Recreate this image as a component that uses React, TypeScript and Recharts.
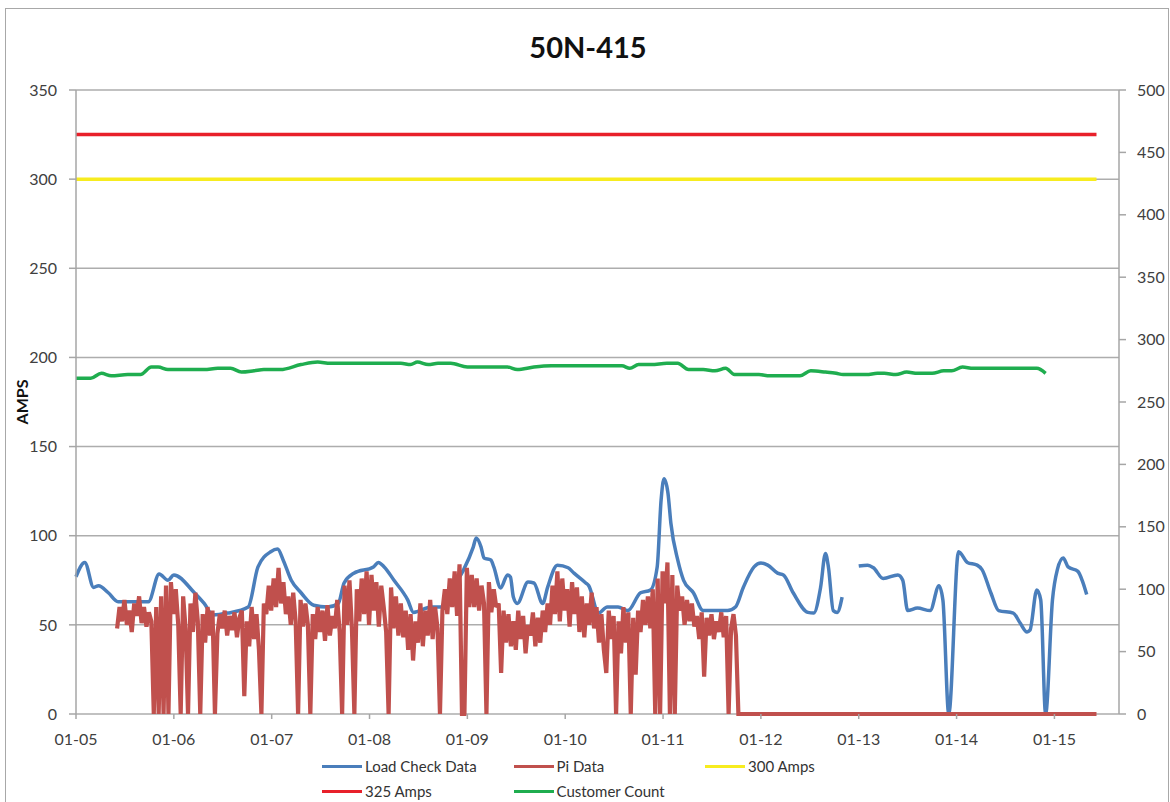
import { CartesianGrid, Line, LineChart, XAxis, YAxis } from 'recharts';

const dateLabels = ['01-05', '01-06', '01-07', '01-08', '01-09', '01-10', '01-11', '01-12', '01-13', '01-14', '01-15'];
const dayTicks = dateLabels.map((_, i) => i);
const ampTicks = [0, 50, 100, 150, 200, 250, 300, 350];
const countTicks = [0, 50, 100, 150, 200, 250, 300, 350, 400, 450, 500];

// Load Check Data (days after 01-05, amps); null = gap in the record
const loadCheckDays = [
  0, 0.09, 0.18, 0.23, 0.33, 0.43, 0.74, 0.85, 0.94, 1.0,
  1.21, 1.31, 1.4, 1.55, 1.76, 1.86, 1.99, 2.06, 2.12, 2.2,
  2.3, 2.43, 2.57, 2.68, 2.74, 2.84, 3.04, 3.09, 3.15, 3.25,
  3.39, 3.45, 3.63, 3.73, 3.83, 3.96, 4.06, 4.09, 4.14, 4.17,
  4.24, 4.27, 4.34, 4.41, 4.44, 4.47, 4.51, 4.62, 4.68, 4.77,
  4.82, 4.92, 5.03, 5.09, 5.21, 5.24, 5.34, 5.43, 5.54, 5.64,
  5.77, 5.87, 5.94, 5.98, 6.01, 6.05, 6.08, 6.15, 6.21, 6.31,
  6.41, 6.66, 6.74, 6.82, 6.93, 7.0, 7.07, 7.17, 7.23, 7.33,
  7.48, 7.54, 7.61, 7.66, 7.69, 7.74, 7.78, 7.83, 7.9, 8.0,
  8.09, 8.15, 8.25, 8.4, 8.45, 8.5, 8.6, 8.73, 8.82, 8.86,
  8.92, 9.02, 9.11, 9.21, 9.26, 9.35, 9.43, 9.58, 9.65, 9.72,
  9.75, 9.82, 9.86, 9.91, 9.98, 10.03, 10.09, 10.14, 10.24, 10.29,
  10.33,
];
const loadCheckAmps = [
  77, 85, 71, 72, 68, 63, 63, 78.5, 75, 78,
  68, 62, 55.5, 56.6, 60, 82.5, 91, 92.5, 86, 75,
  68, 61, 60, 62, 73.5, 79, 82.5, 85, 82.5, 75,
  64, 57, 60, 60, 69.5, 80.7, 93.6, 98.7, 93.6, 87.5,
  86.4, 82.5, 70.7, 78, 76.8, 65.6, 62, 74, 73.5, 62,
  71, 83.5, 82, 79, 73.5, 72, 56.6, 60, 60, 58,
  68, 69.5, 82.5, 120, 132, 124, 107, 86.4, 75, 68,
  58, 58, 60, 71, 82.5, 84.7, 83.5, 79, 78, 68,
  57, 56.6, 71, 90, 82.5, 58, 57, 65.6, null, 83,
  83.5, 82, 76, 78, 75, 58, 59.4, 58, 72, 64,
  0, 91, 85, 83.5, 81, 68, 58, 56.6, 51, 46,
  47, 69.5, 64, 0, 64, 81, 87.5, 82.5, 80, 74,
  67,
];

// Pi Data: regular readings from piStartDay every piStepDay
const piStartDay = 0.42;
const piStepDay = 0.025;
const piAmps = [
  48, 60, 52, 64, 50, 58, 46, 62, 55, 66, 51, 60, 49, 57,
  52, 0, 60, 0,
  66, 0, 72, 0, 74, 56, 70,
  50, 0, 66, 48, 0, 62, 46, 68, 52,
  0,
  56, 40, 60, 44, 58,
  0,
  45, 56, 48, 58, 44, 55, 47, 57, 43, 54,
  58, 10, 52, 38, 60, 42, 56, 36,
  0,
  62, 56, 72, 58, 76, 60, 82, 62, 74, 56,
  66, 50, 68, 52, 0, 64, 49, 62, 50,
  0,
  56, 42, 60, 46, 58, 41, 61, 44, 55, 48,
  64, 46, 0, 72, 50, 75, 48, 0, 70,
  52, 76, 56, 80, 50, 78, 58, 74, 49, 72,
  60, 46, 0, 71, 48, 66, 44, 62, 43, 58,
  36, 56, 30, 52, 40, 62, 38, 58,
  44, 64, 42, 60, 48,
  0,
  58, 70, 56, 76, 60, 80, 55, 84, 0, 0, 82, 60, 78,
  60, 76, 58, 72, 62, 0, 74, 57, 70, 60,
  62, 23, 58, 40, 56, 38,
  52, 36, 58, 42, 55, 34, 50, 44, 57, 38, 54, 40, 58, 46,
  62, 50, 72, 56, 80, 52, 76, 58, 70, 49, 74,
  56, 71, 46, 66, 43, 62, 50, 68,
  48, 60, 40, 56, 36, 23, 58, 42, 55, 0, 52, 34, 60, 40, 57, 0, 54, 22, 58,
  46, 64, 50, 66, 48,
  70, 0, 76, 0, 80, 62, 85, 0, 78, 0, 72,
  58, 66, 50, 64, 52, 62, 49,
  55, 42, 57, 21, 54, 44, 56, 42, 52, 46, 57, 43, 55, 0, 48, 56, 44,
  0,
];
const piTailDays = [10.43];
const piTailAmps = [0];

// limit lines
const limitDays = [0, 10.43];
const limit300 = [300, 300];
const limit325 = [325, 325];

// Customer Count (right axis)
const customerDays = [
  0, 0.15, 0.26, 0.36, 0.53, 0.66, 0.77, 0.84, 0.94, 1.31,
  1.45, 1.58, 1.69, 1.82, 1.92, 2.09, 2.3, 2.47, 2.6, 3.32,
  3.42, 3.49, 3.6, 3.7, 3.83, 4.0, 4.41, 4.51, 4.68, 4.86,
  5.58, 5.66, 5.75, 5.88, 6.04, 6.15, 6.26, 6.41, 6.53, 6.64,
  6.73, 6.98, 7.09, 7.4, 7.51, 7.66, 7.77, 7.84, 8.08, 8.19,
  8.26, 8.38, 8.49, 8.6, 8.75, 8.87, 8.95, 9.06, 9.17, 9.82,
  9.91,
];
const customerCount = [
  269, 269, 273, 271, 272, 272, 278, 278, 276, 276,
  277, 277, 274, 275, 276, 276, 280, 282, 281, 281,
  280, 282, 280, 281, 281, 278, 278, 276, 278, 279,
  279, 277, 280, 280, 281, 281, 276, 276, 275, 277,
  272, 272, 271, 271, 275, 274, 273, 272, 272, 273,
  273, 272, 274, 273, 273, 275, 275, 278, 277, 277,
  273,
];

const loadCheckData = loadCheckDays.map((day, i) => ({ day, value: loadCheckAmps[i] }));
const piData = [
  ...piAmps.map((value, i) => ({ day: +(piStartDay + i * piStepDay).toFixed(3), value })),
  ...piTailDays.map((day, i) => ({ day, value: piTailAmps[i] })),
];
const amps300Data = limitDays.map((day, i) => ({ day, value: limit300[i] }));
const amps325Data = limitDays.map((day, i) => ({ day, value: limit325[i] }));
const customerData = customerDays.map((day, i) => ({ day, value: customerCount[i] }));

const COLORS = {
  load: '#4a7ebb',
  pi: '#c0504d',
  a300: '#f7ec1f',
  a325: '#e8202a',
  customer: '#1fad4f',
};

const legendItems = [
  { name: 'Load Check Data', color: COLORS.load, col: 0, row: 0 },
  { name: 'Pi Data', color: COLORS.pi, col: 1, row: 0 },
  { name: '300 Amps', color: COLORS.a300, col: 2, row: 0 },
  { name: '325 Amps', color: COLORS.a325, col: 0, row: 1 },
  { name: 'Customer Count', color: COLORS.customer, col: 1, row: 1 },
];

const FONT = 'Lato, "Open Sans", sans-serif';
const tickStyle = { fontFamily: FONT, fontSize: 16, fill: '#404040' };
const AXIS = '#a6a6a6';

export default function App() {
  return (
    <div style={{ position: 'absolute', left: 0, top: 0, width: 1170, height: 802, fontFamily: FONT, background: '#fff', overflow: 'hidden' }}>
      <div style={{ position: 'absolute', left: 5, top: 8, width: 1162, height: 800, border: '1px solid #a8a8a8' }} />
      <div style={{ position: 'absolute', left: 3, top: 30, width: 1170, textAlign: 'center', fontSize: 29, fontWeight: 700, lineHeight: '34px', color: '#111' }}>
        50N-415
      </div>
      <div style={{ position: 'absolute', left: -28, top: 392, width: 100, lineHeight: '20px', textAlign: 'center', fontSize: 16, fontWeight: 700, color: '#111', transform: 'rotate(-90deg)' }}>
        AMPS
      </div>
      <div style={{ position: 'absolute', left: 0, top: 0 }}>
        <LineChart width={1170} height={802} margin={{ top: 90, right: 0, bottom: 58, left: 26 }}>
          {/* the 0 grid line doubles as the x axis line so the series sit on top of it */}
          <CartesianGrid yAxisId="left" vertical={false} stroke="#adadad" strokeWidth={1.5} />
          <XAxis
            dataKey="day"
            type="number"
            domain={[0, 10.66]}
            ticks={dayTicks}
            tickFormatter={(v) => dateLabels[v] ?? ''}
            axisLine={false}
            tickLine={{ stroke: AXIS, strokeWidth: 1.5 }}
            tickSize={5}
            tickMargin={15}
            tick={tickStyle}
            height={30}
          />
          <YAxis
            yAxisId="left"
            domain={[0, 350]}
            ticks={ampTicks}
            width={50}
            stroke={AXIS}
            strokeWidth={1.5}
            tickSize={7}
            tickMargin={12}
            tick={tickStyle}
          />
          <YAxis
            yAxisId="right"
            orientation="right"
            domain={[0, 500]}
            ticks={countTicks}
            width={51}
            stroke={AXIS}
            strokeWidth={1.5}
            tickSize={7}
            tickMargin={11}
            tick={{ ...tickStyle, textAnchor: 'start' }}
          />
          <Line yAxisId="left" data={loadCheckData} dataKey="value" name="Load Check Data" type="monotone" stroke={COLORS.load} strokeWidth={3.5} dot={false} connectNulls={false} isAnimationActive={false} />
          <Line yAxisId="left" data={piData} dataKey="value" name="Pi Data" type="linear" stroke={COLORS.pi} strokeWidth={4.2} strokeLinejoin="miter" strokeMiterlimit={2} dot={false} isAnimationActive={false} />
          <Line yAxisId="left" data={amps300Data} dataKey="value" name="300 Amps" type="linear" stroke={COLORS.a300} strokeWidth={3.5} dot={false} isAnimationActive={false} />
          <Line yAxisId="left" data={amps325Data} dataKey="value" name="325 Amps" type="linear" stroke={COLORS.a325} strokeWidth={3.5} dot={false} isAnimationActive={false} />
          <Line yAxisId="right" data={customerData} dataKey="value" name="Customer Count" type="monotone" stroke={COLORS.customer} strokeWidth={3.5} dot={false} isAnimationActive={false} />
        </LineChart>
      </div>
      {legendItems.map((item) => (
        <div
          key={item.name}
          style={{
            position: 'absolute',
            left: 322 + item.col * 191.5,
            top: 757 + item.row * 25,
            height: 18,
            display: 'flex',
            alignItems: 'center',
            fontSize: 15,
            color: '#333',
            whiteSpace: 'nowrap',
          }}
        >
          <span style={{ display: 'inline-block', width: 40, height: 3, background: item.color, marginRight: 3 }} />
          {item.name}
        </div>
      ))}
    </div>
  );
}
